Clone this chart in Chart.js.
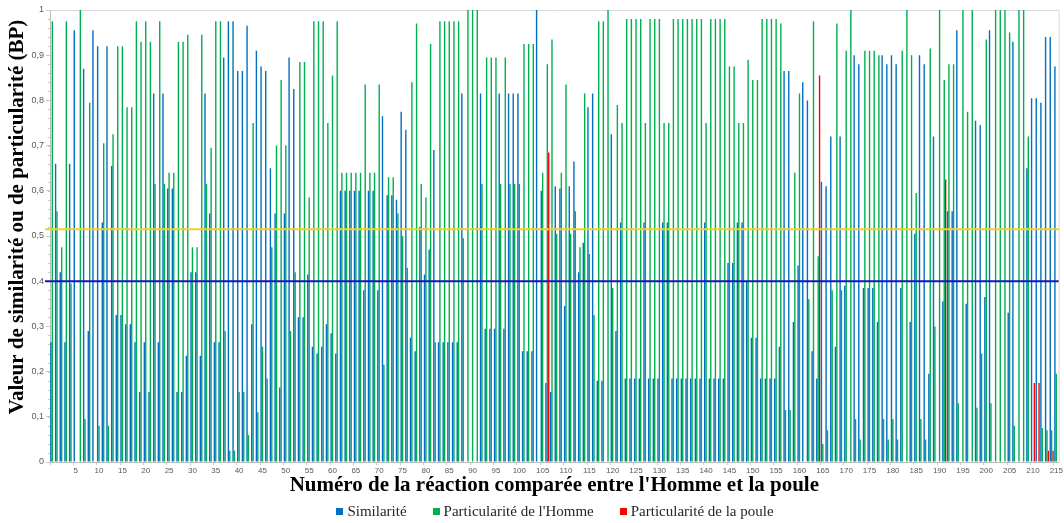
<!DOCTYPE html>
<html lang="fr">
<head>
<meta charset="UTF-8">
<title>Similarité et particularité des réactions</title>
<script src="https://cdn.jsdelivr.net/npm/chart.js@4.4.1/dist/chart.umd.min.js"></script>
<style>
    body {
        margin: 0;
        background: #ffffff;
        overflow: hidden;
    }
    .wrap {
        position: relative;
        width: 1064px;
        height: 523px;
    }
    #chart {
        position: absolute;
        left: 0;
        top: 0;
    }
    .legend {
        position: absolute;
        left: 105px;
        width: 900px;
        top: 503px;
        display: flex;
        justify-content: center;
        font-family: 'Liberation Serif', 'Times New Roman', serif;
        font-size: 15px;
        line-height: 16px;
        color: #262626;
    }
    .legend span.item {
        display: flex;
        align-items: center;
        margin-right: 26px;
    }
    .legend span.item:last-child {
        margin-right: 0;
    }
    .legend i {
        display: inline-block;
        width: 7px;
        height: 7px;
        margin-right: 4px;
    }
</style>
</head>
<body>
<div class="wrap">
    <canvas id="chart" width="1064" height="523"></canvas>
    <div class="legend">
        <span class="item"><i style="background:#0070c0"></i>Similarité</span>
        <span class="item"><i style="background:#00b050"></i>Particularité de l'Homme</span>
        <span class="item"><i style="background:#ff0000"></i>Particularité de la poule</span>
    </div>
</div>

<script>
// numéros des réactions (0 à 215)
const reactions = Array.from({ length: 216 }, (_, i) => i);

// valeurs de similarité, une par réaction
const similarite = [
    0.265, 0.66, 0.42, 0.265, 0.66, 0.955, 0, 0.87, 0.29, 0.955,
    0.92, 0.53, 0.92, 0.655, 0.325, 0.325, 0.305, 0.305, 0.265, 0.155,
    0.265, 0.155, 0.815, 0.265, 0.815, 0.605, 0.605, 0.155, 0.155, 0.235,
    0.42, 0.42, 0.235, 0.815, 0.55, 0.265, 0.265, 0.895, 0.975, 0.975,
    0.865, 0.865, 0.965, 0.305, 0.91, 0.875, 0.865, 0.65, 0.55, 0.165,
    0.55, 0.895, 0.825, 0.32, 0.32, 0.415, 0.255, 0.24, 0.255, 0.305,
    0.285, 0.24, 0.60, 0.60, 0.60, 0.60, 0.60, 0.38, 0.60, 0.60,
    0.38, 0.765, 0.59, 0.59, 0.58, 0.775, 0.735, 0.275, 0.245, 0.52,
    0.415, 0.47, 0.69, 0.265, 0.265, 0.265, 0.265, 0.265, 0.815, 0,
    0, 0, 0.815, 0.295, 0.295, 0.295, 0.815, 0.295, 0.815, 0.815,
    0.815, 0.245, 0.245, 0.245, 1.0, 0.60, 0.175, 0.155, 0.61, 0.605,
    0.345, 0.61, 0.665, 0.42, 0.485, 0.785, 0.815, 0.18, 0.18, 0,
    0.725, 0.29, 0.53, 0.185, 0.185, 0.185, 0.185, 0.53, 0.185, 0.185,
    0.185, 0.53, 0.53, 0.185, 0.185, 0.185, 0.185, 0.185, 0.185, 0.185,
    0.53, 0.185, 0.185, 0.185, 0.185, 0.44, 0.44, 0.53, 0.53, 0.40,
    0.275, 0.275, 0.185, 0.185, 0.185, 0.185, 0.255, 0.865, 0.865, 0.31,
    0.435, 0.84, 0.80, 0.245, 0.185, 0.62, 0.61, 0.72, 0.255, 0.72,
    0.39, 0, 0.90, 0.88, 0.385, 0.385, 0.385, 0.31, 0.90, 0.88,
    0.90, 0.88, 0.385, 0, 0.31, 0.505, 0.90, 0.88, 0.195, 0.72,
    0, 0.355, 0.555, 0.555, 0.955, 0, 0.35, 0, 0.755, 0.745,
    0.365, 0.955, 0, 0, 0, 0.33, 0.93, 0, 0, 0.65,
    0.805, 0.805, 0.795, 0.94, 0.94, 0.875
];

// particularité de l'Homme
const particulariteHomme = [
    0.975, 0.555, 0.475, 0.975, 0.395, 0, 1.0, 0.095, 0.795, 0,
    0.08, 0.705, 0.08, 0.725, 0.92, 0.92, 0.785, 0.785, 0.975, 0.93,
    0.975, 0.93, 0.615, 0.975, 0.615, 0.64, 0.64, 0.93, 0.93, 0.945,
    0.475, 0.475, 0.945, 0.615, 0.695, 0.975, 0.975, 0.29, 0.025, 0.025,
    0.155, 0.155, 0.06, 0.75, 0.11, 0.255, 0.185, 0.475, 0.70, 0.845,
    0.70, 0.29, 0.42, 0.885, 0.885, 0.585, 0.975, 0.975, 0.975, 0.75,
    0.855, 0.975, 0.64, 0.64, 0.64, 0.64, 0.64, 0.835, 0.64, 0.64,
    0.835, 0.215, 0.63, 0.63, 0.55, 0.50, 0.43, 0.84, 0.97, 0.615,
    0.585, 0.925, 0.265, 0.975, 0.975, 0.975, 0.975, 0.975, 0.495, 1.0,
    1.0, 1.0, 0.615, 0.895, 0.895, 0.895, 0.615, 0.895, 0.615, 0.615,
    0.615, 0.925, 0.925, 0.925, 0, 0.64, 0.88, 0.935, 0.505, 0.64,
    0.835, 0.505, 0.555, 0.475, 0.815, 0.46, 0.325, 0.975, 0.975, 1.0,
    0.385, 0.79, 0.75, 0.98, 0.98, 0.98, 0.98, 0.75, 0.98, 0.98,
    0.98, 0.75, 0.75, 0.98, 0.98, 0.98, 0.98, 0.98, 0.98, 0.98,
    0.75, 0.98, 0.98, 0.98, 0.98, 0.875, 0.875, 0.75, 0.75, 0.89,
    0.845, 0.845, 0.98, 0.98, 0.98, 0.98, 0.97, 0.115, 0.115, 0.64,
    0.815, 0, 0.36, 0.975, 0.455, 0.04, 0.07, 0.38, 0.97, 0.38,
    0.91, 1.0, 0.095, 0.05, 0.91, 0.91, 0.91, 0.90, 0.095, 0.05,
    0.095, 0.05, 0.91, 1.0, 0.90, 0.595, 0.095, 0.05, 0.915, 0.30,
    1.0, 0.845, 0.88, 0.88, 0.13, 1.0, 0.775, 1.0, 0.12, 0.24,
    0.935, 0.13, 1.0, 1.0, 1.0, 0.95, 0.08, 1.0, 1.0, 0.72,
    0, 0, 0.075, 0.07, 0.07, 0.195
];

// particularité de la poule
const particularitePoule = [
    0, 0, 0, 0, 0, 0, 0, 0, 0, 0,
    0, 0, 0, 0, 0, 0, 0, 0, 0, 0,
    0, 0, 0, 0, 0, 0, 0, 0, 0, 0,
    0, 0, 0, 0, 0, 0, 0, 0, 0, 0,
    0, 0, 0, 0, 0, 0, 0, 0, 0, 0,
    0, 0, 0, 0, 0, 0, 0, 0, 0, 0,
    0, 0, 0, 0, 0, 0, 0, 0, 0, 0,
    0, 0, 0, 0, 0, 0, 0, 0, 0, 0,
    0, 0, 0, 0, 0, 0, 0, 0, 0, 0,
    0, 0, 0, 0, 0, 0, 0, 0, 0, 0,
    0, 0, 0, 0, 0, 0, 0.685, 0, 0, 0,
    0, 0, 0, 0, 0, 0, 0, 0, 0, 0,
    0, 0, 0, 0, 0, 0, 0, 0, 0, 0,
    0, 0, 0, 0, 0, 0, 0, 0, 0, 0,
    0, 0, 0, 0, 0, 0, 0, 0, 0, 0,
    0, 0, 0, 0, 0, 0, 0, 0, 0, 0,
    0, 0, 0, 0, 0.855, 0, 0, 0, 0, 0,
    0, 0, 0, 0, 0, 0, 0, 0, 0, 0,
    0, 0, 0, 0, 0, 0, 0, 0, 0, 0,
    0, 0.625, 0, 0, 0, 0, 0, 0, 0, 0,
    0, 0, 0, 0, 0, 0, 0, 0, 0, 0,
    0.175, 0.175, 0, 0.025, 0.025, 0
];

// seuils horizontaux (jaune puis bleu foncé)
const seuils = [0.515, 0.40];
const couleursSeuils = ['#f2cf2c', '#1414b8'];

// cadre gris + petites graduations secondaires sur l'axe Y
const cadrePlugin = {
    id: 'cadre',
    beforeDatasetsDraw(chart) {
        const { ctx, chartArea: a, scales: { y } } = chart;
        ctx.save();
        ctx.strokeStyle = '#d9d9d9';
        ctx.lineWidth = 1;
        ctx.beginPath();
        ctx.moveTo(a.left, a.top + 0.5);
        ctx.lineTo(a.right + 0.5, a.top + 0.5);
        ctx.lineTo(a.right + 0.5, a.bottom);
        ctx.stroke();
        ctx.strokeStyle = '#c8c8c8';
        ctx.beginPath();
        for (let v = 0; v <= 1.0001; v += 0.02) {
            const py = Math.round(y.getPixelForValue(v)) + 0.5;
            ctx.moveTo(a.left - 2, py);
            ctx.lineTo(a.left, py);
        }
        ctx.stroke();
        ctx.restore();
    }
};

// lignes de seuil tracées par-dessus les barres
const seuilsPlugin = {
    id: 'seuils',
    afterDatasetsDraw(chart) {
        const { ctx, chartArea: a, scales: { y } } = chart;
        ctx.save();
        ctx.lineWidth = 2;
        seuils.forEach((s, i) => {
            const py = y.getPixelForValue(s);
            ctx.strokeStyle = couleursSeuils[i];
            ctx.beginPath();
            ctx.moveTo(a.left - 5, py);
            ctx.lineTo(a.right, py);
            ctx.stroke();
        });
        ctx.restore();
    }
};

// titre vertical de l'axe Y, un peu remonté par rapport au centre de la zone
const titreYPlugin = {
    id: 'titreY',
    afterDraw(chart) {
        const { ctx, chartArea: a } = chart;
        ctx.save();
        ctx.translate(18, (a.top + a.bottom) / 2 - 19);
        ctx.rotate(-Math.PI / 2);
        ctx.font = 'bold 21px "Liberation Serif"';
        ctx.fillStyle = '#000000';
        ctx.textAlign = 'center';
        ctx.textBaseline = 'middle';
        ctx.fillText('Valeur de similarité ou de particularité (BP)', 0, 0);
        ctx.restore();
    }
};

new Chart(document.getElementById('chart'), {
    type: 'bar',
    data: {
        labels: reactions,
        datasets: [
            { label: 'Similarité', data: similarite, backgroundColor: '#0070c0' },
            { label: "Particularité de l'Homme", data: particulariteHomme, backgroundColor: '#00b050' },
            { label: 'Particularité de la poule', data: particularitePoule, backgroundColor: '#ff0000' }
        ]
    },
    options: {
        responsive: false,
        animation: false,
        categoryPercentage: 0.9,
        barPercentage: 1.0,
        layout: { padding: { top: 10, right: 4, left: 0, bottom: 25 } },
        plugins: {
            legend: { display: false },
            tooltip: { enabled: false }
        },
        scales: {
            x: {
                grid: {
                    drawOnChartArea: false,
                    tickLength: 3,
                    color: ctx => (ctx.index % 5 === 0 ? '#c8c8c8' : 'rgba(0,0,0,0)')
                },
                border: { color: '#bfbfbf' },
                ticks: {
                    autoSkip: false,
                    maxRotation: 0,
                    minRotation: 0,
                    padding: 1,
                    color: '#595959',
                    font: { family: 'Liberation Sans', size: 8 },
                    callback: (v, i) => (i > 0 && i % 5 === 0 ? String(reactions[i]) : '')
                },
                title: {
                    display: true,
                    text: "Numéro de la réaction comparée entre l'Homme et la poule",
                    color: '#000000',
                    padding: 0,
                    font: { family: 'Liberation Serif', size: 21, weight: 'bold' }
                },
                afterFit: s => { s.height = 36; }
            },
            y: {
                min: 0,
                max: 1,
                grid: { drawOnChartArea: false, tickLength: 4, color: '#c8c8c8' },
                border: { color: '#bfbfbf' },
                ticks: {
                    stepSize: 0.1,
                    padding: 2,
                    color: '#595959',
                    font: { family: 'Liberation Sans', size: 9 },
                    callback: v => {
                        const r = Math.round(v * 10) / 10;
                        return r === 0 || r === 1 ? String(r) : r.toFixed(1).replace('.', ',');
                    }
                },
                afterFit: s => { s.width = 50; }
            }
        }
    },
    plugins: [cadrePlugin, seuilsPlugin, titreYPlugin]
});
</script>
</body>
</html>
